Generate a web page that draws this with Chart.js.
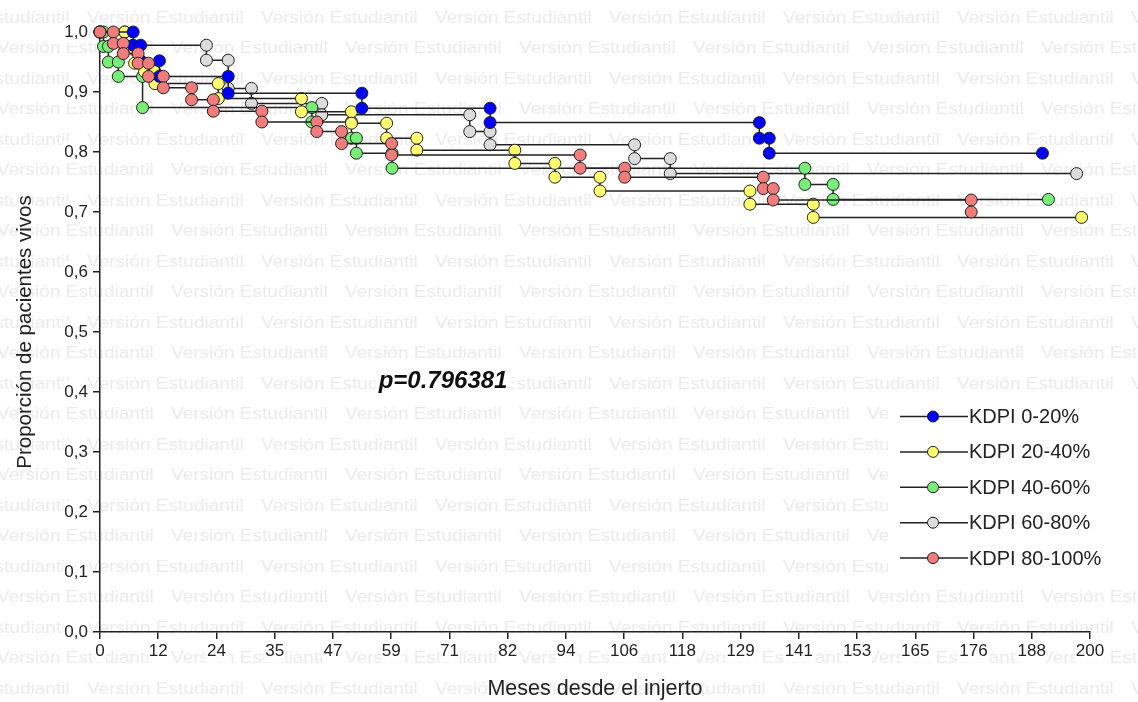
<!DOCTYPE html>
<html>
<head>
<meta charset="utf-8">
<script src="https://cdn.jsdelivr.net/npm/chart.js@4.4.1/dist/chart.umd.min.js"></script>
<style>
  html, body { margin: 0; padding: 0; background: #fff; }
</style>
</head>
<body>
<canvas id="kmChart" width="1138" height="702"></canvas>
<script>
// Kaplan-Meier curves: each drop appears twice (value before and after)
const seriesLabels = ["KDPI 0-20%", "KDPI 20-40%", "KDPI 40-60%", "KDPI 60-80%", "KDPI 80-100%"];
const seriesColors = ["#0000ff", "#ffff6e", "#78ee78", "#dcdcdc", "#f07c7c"];

const blueMonths = [0, 6.7, 6.7, 8.2, 8.2, 12, 12, 25.9, 25.9, 52.9, 52.9, 78.8, 78.8, 133.2, 133.2, 135.2, 135.2, 190.4];
const blueSurv   = [1, 1, 0.978, 0.978, 0.952, 0.952, 0.926, 0.926, 0.898, 0.898, 0.873, 0.873, 0.849, 0.849, 0.823, 0.823, 0.798, 0.798];

const yellowMonths = [0, 5, 5, 7, 7, 9, 9, 11.1, 11.1, 23.9, 23.9, 40.7, 40.7, 50.8, 50.8, 57.9, 57.9, 64, 64, 83.8, 83.8, 91.9, 91.9, 101, 101, 131.3, 131.3, 144.1, 144.1, 198.3];
const yellowSurv   = [1, 1, 0.97, 0.97, 0.948, 0.948, 0.934, 0.934, 0.914, 0.914, 0.889, 0.889, 0.867, 0.867, 0.848, 0.848, 0.823, 0.823, 0.803, 0.803, 0.781, 0.781, 0.758, 0.758, 0.735, 0.735, 0.713, 0.713, 0.691, 0.691];

const greenMonths = [0, 0.7, 0.7, 1.7, 1.7, 3.7, 3.7, 8.6, 8.6, 42.8, 42.8, 50.8, 50.8, 51.8, 51.8, 59, 59, 142.4, 142.4, 148.1, 148.1, 191.6];
const greenSurv   = [1, 1, 0.976, 0.976, 0.95, 0.95, 0.926, 0.926, 0.874, 0.874, 0.85, 0.85, 0.823, 0.823, 0.798, 0.798, 0.773, 0.773, 0.746, 0.746, 0.721, 0.721];

const grayMonths = [0, 5, 5, 21.5, 21.5, 25.9, 25.9, 30.6, 30.6, 44.8, 44.8, 74.7, 74.7, 78.8, 78.8, 108, 108, 115.2, 115.2, 197.3];
const graySurv   = [1, 1, 0.978, 0.978, 0.953, 0.953, 0.906, 0.906, 0.881, 0.881, 0.862, 0.862, 0.834, 0.834, 0.812, 0.812, 0.789, 0.789, 0.764, 0.764];

const redMonths = [0, 2.7, 2.7, 4.7, 4.7, 7.7, 7.7, 9.8, 9.8, 12.8, 12.8, 18.5, 18.5, 22.9, 22.9, 32.7, 32.7, 43.8, 43.8, 48.8, 48.8, 58.9, 58.9, 97, 97, 106, 106, 134, 134, 136, 136, 176, 176];
const redSurv   = [1, 1, 0.981, 0.981, 0.964, 0.964, 0.948, 0.948, 0.926, 0.926, 0.907, 0.907, 0.887, 0.887, 0.868, 0.868, 0.85, 0.85, 0.834, 0.834, 0.814, 0.814, 0.795, 0.795, 0.773, 0.773, 0.758, 0.758, 0.739, 0.739, 0.72, 0.72, 0.70];

const xTickLabels = ["0", "12", "24", "35", "47", "59", "71", "82", "94", "106", "118", "129", "141", "153", "165", "176", "188", "200"];
const yTickLabels = ["0,0", "0,1", "0,2", "0,3", "0,4", "0,5", "0,6", "0,7", "0,8", "0,9", "1,0"];

const pValueText = "p=0.796381";
const pValueAt = { x: 69.3, y: 0.418 };
const watermark = "Versión Estudiantil";

const seriesMonths = [blueMonths, yellowMonths, greenMonths, grayMonths, redMonths];
const seriesSurv = [blueSurv, yellowSurv, greenSurv, graySurv, redSurv];
const drawOrder = [2, 3, 4, 5, 1]; // red on top

const FONT = '"Liberation Sans", Arial, sans-serif';
const INK = "#222";

// background: white + light repeated watermark
const watermarkPlugin = {
  id: "watermark",
  beforeDraw(chart) {
    const ctx = chart.ctx;
    ctx.save();
    ctx.fillStyle = "#fff";
    ctx.fillRect(0, 0, chart.width, chart.height);
    ctx.font = "17px " + FONT;
    ctx.fillStyle = "#ebebeb";
    ctx.textBaseline = "middle";
    for (let k = 0; k <= 22; k++) {
      const y = 18 + 30.5 * k;
      const start = k % 2 === 0 ? 87 : -3;
      for (let x = start - 174; x < chart.width; x += 174) {
        ctx.save();
        ctx.translate(x, y);
        ctx.scale(1.12, 1);
        ctx.fillText(watermark, 0, 0);
        ctx.restore();
      }
    }
    ctx.restore();
  }
};

// p value label and the legend, both on a white box
const overlayPlugin = {
  id: "overlay",
  afterDatasetsDraw(chart) {
    const ctx = chart.ctx;
    const xs = chart.scales.x, ys = chart.scales.y;
    ctx.save();
    // p value
    ctx.font = "italic bold 24px " + FONT;
    const px = xs.getPixelForValue(pValueAt.x);
    const py = ys.getPixelForValue(pValueAt.y);
    const w = ctx.measureText(pValueText).width;
    ctx.fillStyle = "#fff";
    ctx.fillRect(px - w / 2 - 3, py - 13, w + 6, 26);
    ctx.fillStyle = "#111";
    ctx.textAlign = "center";
    ctx.textBaseline = "middle";
    ctx.fillText(pValueText, px, py);

    // legend
    ctx.fillStyle = "#fff";
    ctx.fillRect(888, 396, 250, 182);
    ctx.textAlign = "left";
    ctx.font = "20px " + FONT;
    chart.data.datasets.forEach((ds, i) => {
      const y = 416.5 + i * 35.4;
      ctx.strokeStyle = INK;
      ctx.lineWidth = 1.5;
      ctx.beginPath();
      ctx.moveTo(900, y);
      ctx.lineTo(968, y);
      ctx.stroke();
      ctx.beginPath();
      ctx.arc(933, y, 5.5, 0, Math.PI * 2);
      ctx.fillStyle = ds.pointBackgroundColor;
      ctx.fill();
      ctx.lineWidth = 1;
      ctx.stroke();
      ctx.fillStyle = INK;
      ctx.fillText(ds.label, 969, y + 1);
    });
    ctx.restore();
  }
};

const ctx = document.getElementById("kmChart").getContext("2d");
const kmChart = new Chart(ctx, {
  type: "line",
  data: {
    datasets: seriesLabels.map((label, i) => ({
      label: label,
      data: seriesMonths[i].map((m, j) => ({ x: m, y: seriesSurv[i][j] })),
      borderColor: INK,
      borderWidth: 1.5,
      pointRadius: 6,
      pointHoverRadius: 6,
      pointBackgroundColor: seriesColors[i],
      pointBorderColor: INK,
      pointBorderWidth: 1,
      tension: 0,
      fill: false,
      clip: false,
      order: drawOrder[i],
    })),
  },
  options: {
    responsive: false,
    animation: false,
    events: [],
    layout: { padding: { top: 32, right: 48, left: 0, bottom: 0 } },
    plugins: {
      legend: { display: false },
      tooltip: { enabled: false },
    },
    scales: {
      x: {
        type: "linear",
        min: 0,
        max: 200,
        afterBuildTicks: (s) => {
          s.ticks = xTickLabels.map((t, i) => ({ value: (i * 200) / (xTickLabels.length - 1) }));
        },
        afterFit: (s) => { s.height = 70; },
        ticks: {
          autoSkip: false,
          maxRotation: 0,
          callback: (v, i) => xTickLabels[i],
          font: { family: FONT, size: 17 },
          color: INK,
          padding: 2,
          showLabelBackdrop: true,
          backdropColor: "#fff",
          backdropPadding: 1,
        },
        grid: { drawOnChartArea: false, tickLength: 7, color: INK, lineWidth: 1.5 },
        border: { color: INK, width: 1.5 },
        title: {
          display: true,
          text: "Meses desde el injerto",
          font: { family: FONT, size: 21.5 },
          color: INK,
          padding: { top: 0, bottom: 0 },
        },
      },
      y: {
        min: 0,
        max: 1,
        afterBuildTicks: (s) => {
          s.ticks = yTickLabels.map((t, i) => ({ value: i / 10 }));
        },
        afterFit: (s) => { s.width = 100; },
        ticks: {
          autoSkip: false,
          callback: (v, i) => yTickLabels[i],
          font: { family: FONT, size: 17 },
          color: INK,
          padding: 5,
          showLabelBackdrop: true,
          backdropColor: "#fff",
          backdropPadding: 1,
        },
        grid: { drawOnChartArea: false, tickLength: 7, color: INK, lineWidth: 1.5 },
        border: { color: INK, width: 1.5 },
        title: {
          display: true,
          text: "Proporción de pacientes vivos",
          font: { family: FONT, size: 20.5 },
          color: INK,
          padding: { top: 13, bottom: 0 },
        },
      },
    },
  },
  plugins: [watermarkPlugin, overlayPlugin],
});
</script>
</body>
</html>
